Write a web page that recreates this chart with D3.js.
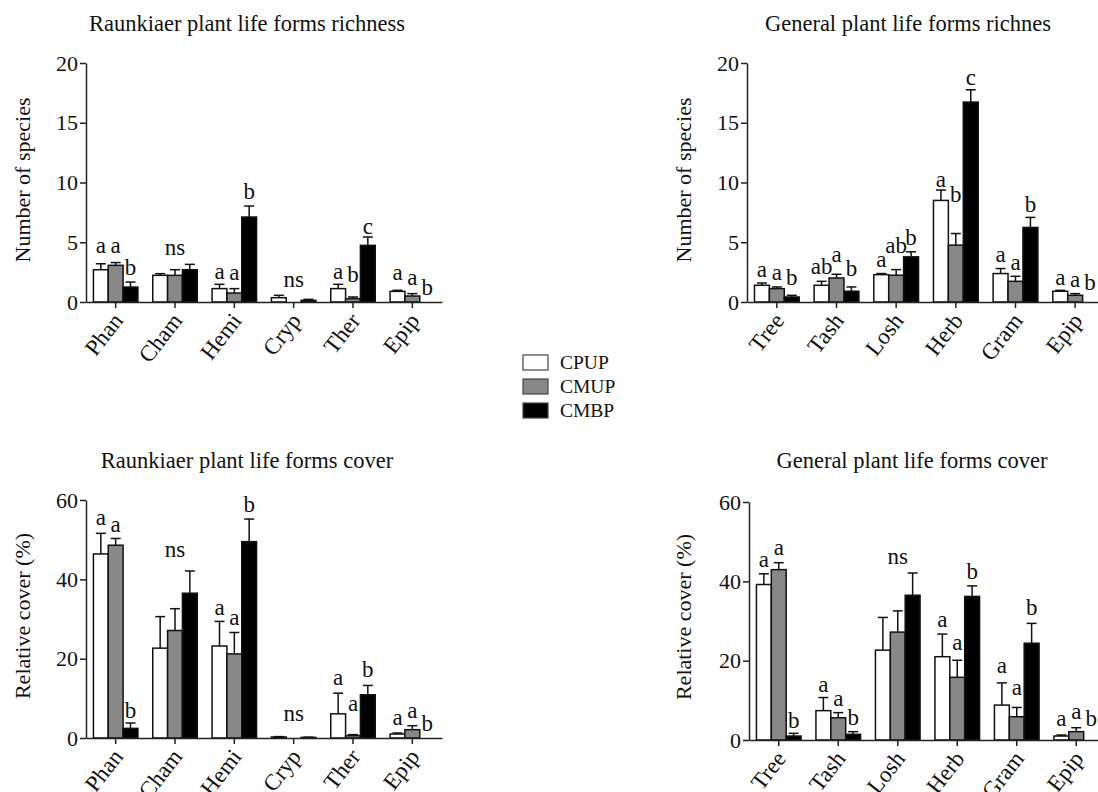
<!DOCTYPE html>
<html>
<head>
<meta charset="utf-8">
<script src="https://cdn.jsdelivr.net/npm/d3@7"></script>
<style>
  body { margin: 0; background: #fff; }
  text { font-family: "Liberation Serif", "Times New Roman", serif; fill: #111; }
</style>
</head>
<body>
<div id="chart"></div>
<script>
// categories and groups
var raunkCats = ["Phan", "Cham", "Hemi", "Cryp", "Ther", "Epip"];
var generalCats = ["Tree", "Tash", "Losh", "Herb", "Gram", "Epip"];
var groups = ["CPUP", "CMUP", "CMBP"];

// richness (number of species), mean and SEM per category [CPUP, CMUP, CMBP]
var raunkRichMean = [[2.7, 3.07, 1.25], [2.23, 2.23, 2.7], [1.12, 0.75, 7.11], [0.36, 0, 0.14], [1.12, 0.28, 4.74], [0.89, 0.5, 0]];
var raunkRichSem  = [[0.5, 0.23, 0.42], [0.14, 0.47, 0.45], [0.36, 0.37, 0.92], [0.2, 0, 0.08], [0.36, 0.14, 0.7], [0.09, 0.2, 0]];
var raunkRichLetters = [["a", "a", "b"], "ns", ["a", "a", "b"], "ns", ["a", "b", "c"], ["a", "a", "b"]];
var raunkRichLetterAt = [[4.13, 4.13, 2.23], 3.9, [1.95, 1.81, 8.65], 1.26, [1.95, 1.67, 5.72], [1.81, 1.4, 0.56]];

var generalRichMean = [[1.4, 1.12, 0.42], [1.4, 2.01, 0.9], [2.29, 2.24, 3.78], [8.5, 4.76, 16.73], [2.38, 1.73, 6.24], [0.9, 0.56, 0]];
var generalRichSem  = [[0.19, 0.14, 0.14], [0.33, 0.31, 0.36], [0.09, 0.47, 0.42], [0.87, 0.97, 1.03], [0.42, 0.42, 0.84], [0.08, 0.14, 0]];
var generalRichLetters = [["a", "a", "b"], ["ab", "a", "b"], ["a", "ab", "b"], ["a", "b", "c"], ["a", "a", "b"], ["a", "a", "b"]];
var generalRichLetterAt = [[2.1, 1.82, 1.4], [2.38, 3.36, 2.15], [2.94, 4.06, 4.76], [9.65, 8.39, 18.18], [3.36, 2.66, 7.55], [1.4, 1.26, 0.98]];

// relative cover (%)
var raunkCoverMean = [[46.4, 48.6, 2.43], [22.65, 27.1, 36.5], [23.2, 21.2, 49.5], [0.25, 0, 0.15], [6.1, 0.6, 10.9], [1.0, 2.1, 0]];
var raunkCoverSem  = [[5.2, 1.7, 1.35], [7.95, 5.5, 5.6], [6.2, 5.4, 5.7], [0.1, 0, 0.05], [5.2, 0.25, 2.35], [0.26, 1.0, 0]];
var raunkCoverLetters = [["a", "a", "b"], "ns", ["a", "a", "b"], "ns", ["a", "a", "b"], ["a", "a", "b"]];
var raunkCoverLetterAt = [[53.7, 52.0, 5.03], 45.7, [31.0, 28.4, 57.0], 4.2, [13.4, 6.7, 15.3], [3.36, 5.03, 1.85]];

var generalCoverMean = [[39.2, 42.95, 1.0], [7.4, 5.6, 1.43], [22.65, 27.2, 36.5], [21.0, 15.8, 36.2], [8.8, 5.87, 24.4], [1.0, 2.1, 0]];
var generalCoverSem  = [[2.7, 1.75, 0.68], [3.3, 1.3, 0.67], [8.25, 5.35, 5.6], [5.7, 4.3, 2.65], [5.6, 2.33, 5.0], [0.26, 1.0, 0]];
var generalCoverLetters = [["a", "a", "b"], ["a", "a", "b"], "ns", ["a", "a", "b"], ["a", "a", "b"], ["a", "a", "b"]];
var generalCoverLetterAt = [[43.6, 46.6, 3.1], [12.0, 8.56, 3.78], 44.3, [28.5, 22.8, 40.7], [16.8, 11.3, 31.5], [3.6, 5.3, 3.6]];

var richTicks = [0, 5, 10, 15, 20];
var coverTicks = [0, 20, 40, 60];

var fills = ["#ffffff", "#888888", "#000000"];

var svg = d3.select("#chart")
  .append("svg")
    .attr("width", 1098)
    .attr("height", 792);

var color = d3.scaleOrdinal().domain(groups).range(fills);

function drawPanel(p) {
    var g = svg.append("g");

    var x = d3.scaleBand()
        .domain(p.cats)
        .range([p.left, p.right])
        .paddingInner(0.25)
        .paddingOuter(0.125);

    var xSub = d3.scaleBand()
        .domain(groups)
        .range([0, x.bandwidth()]);

    var y = d3.scaleLinear()
        .domain([0, p.max])
        .range([p.bottom, p.top]);

    // title
    g.append("text")
        .attr("x", p.titleX)
        .attr("y", p.titleY)
        .attr("text-anchor", "middle")
        .attr("font-size", "22.5px")
        .text(p.title);

    // y label
    g.append("text")
        .attr("transform", "translate(" + p.labelX + "," + p.labelY + ")rotate(-90)")
        .attr("text-anchor", "middle")
        .attr("dy", "0.35em")
        .attr("font-size", "22px")
        .text(p.ylabel);

    // bars
    var rows = p.mean.map(function(m, i) {
        return groups.map(function(k, j) {
            return {cat: p.cats[i], key: k, value: m[j], sem: p.sem[i][j]};
        });
    });

    var cat = g.append("g")
      .selectAll("g")
      .data(rows)
      .enter()
      .append("g")
        .attr("transform", function(d) { return "translate(" + x(d[0].cat) + ",0)"; });

    var bar = cat.selectAll("g")
        .data(function(d) { return d.filter(function(e) { return e.value > 0; }); })
        .enter().append("g");

    // error bars (upper only)
    bar.append("line")
        .attr("x1", function(d) { return xSub(d.key) + xSub.bandwidth() / 2; })
        .attr("x2", function(d) { return xSub(d.key) + xSub.bandwidth() / 2; })
        .attr("y1", function(d) { return y(d.value); })
        .attr("y2", function(d) { return y(d.value + d.sem); })
        .attr("stroke", "#111")
        .attr("stroke-width", 1.5);
    bar.append("line")
        .attr("x1", function(d) { return xSub(d.key) + xSub.bandwidth() / 2 - 5; })
        .attr("x2", function(d) { return xSub(d.key) + xSub.bandwidth() / 2 + 5; })
        .attr("y1", function(d) { return y(d.value + d.sem); })
        .attr("y2", function(d) { return y(d.value + d.sem); })
        .attr("stroke", "#111")
        .attr("stroke-width", 1.5);

    bar.append("rect")
        .attr("x", function(d) { return xSub(d.key); })
        .attr("y", function(d) { return y(d.value); })
        .attr("width", xSub.bandwidth())
        .attr("height", function(d) { return y(0) - y(d.value); })
        .attr("fill", function(d) { return color(d.key); })
        .attr("stroke", "#111")
        .attr("stroke-width", 1.5);

    // significance letters
    p.letters.forEach(function(l, i) {
        if (typeof l === "string") {
            g.append("text")
                .attr("x", x(p.cats[i]) + x.bandwidth() / 2)
                .attr("y", y(p.letterAt[i]))
                .attr("text-anchor", "middle")
                .attr("font-size", "23px")
                .text(l);
        } else {
            l.forEach(function(s, j) {
                g.append("text")
                    .attr("x", x(p.cats[i]) + xSub(groups[j]) + xSub.bandwidth() / 2)
                    .attr("y", y(p.letterAt[i][j]))
                    .attr("text-anchor", "middle")
                    .attr("font-size", "23px")
                    .text(s);
            });
        }
    });

    // y axis
    var yAxis = g.append("g")
        .attr("transform", "translate(" + p.left + ",0)")
        .call(d3.axisLeft(y).tickValues(p.ticks).tickSize(6).tickPadding(2).tickSizeOuter(0));
    yAxis.selectAll("text").attr("font-size", "22px").style("font-family", "Liberation Serif").attr("fill", "#111");

    // x axis, slanted labels
    var xAxis = g.append("g")
        .attr("transform", "translate(0," + p.bottom + ")")
        .call(d3.axisBottom(x).tickSize(6).tickSizeOuter(0));
    xAxis.selectAll("text")
        .attr("font-size", "23px")
        .style("font-family", "Liberation Serif")
        .attr("fill", "#111")
        .attr("x", 0)
        .attr("y", 0)
        .attr("dy", "0.35em")
        .style("text-anchor", "end")
        .attr("transform", "translate(2,14)rotate(-52)");

    g.selectAll(".domain, .tick line")
        .attr("stroke", "#222")
        .attr("stroke-width", 1.5);
}

drawPanel({title: "Raunkiaer plant life forms richness", titleX: 247, titleY: 31,
    ylabel: "Number of species", labelX: 22, labelY: 180,
    cats: raunkCats, mean: raunkRichMean, sem: raunkRichSem, letters: raunkRichLetters, letterAt: raunkRichLetterAt,
    left: 86, right: 442, top: 63, bottom: 302, max: 20, ticks: richTicks});

drawPanel({title: "General plant life forms richnes", titleX: 908, titleY: 31,
    ylabel: "Number of species", labelX: 683, labelY: 180,
    cats: generalCats, mean: generalRichMean, sem: generalRichSem, letters: generalRichLetters, letterAt: generalRichLetterAt,
    left: 747, right: 1105, top: 63, bottom: 302, max: 20, ticks: richTicks});

drawPanel({title: "Raunkiaer plant life forms cover", titleX: 247, titleY: 468,
    ylabel: "Relative cover (%)", labelX: 22, labelY: 616,
    cats: raunkCats, mean: raunkCoverMean, sem: raunkCoverSem, letters: raunkCoverLetters, letterAt: raunkCoverLetterAt,
    left: 86, right: 442, top: 500, bottom: 738, max: 60, ticks: coverTicks});

drawPanel({title: "General plant life forms cover", titleX: 912, titleY: 468,
    ylabel: "Relative cover (%)", labelX: 683, labelY: 617,
    cats: generalCats, mean: generalCoverMean, sem: generalCoverSem, letters: generalCoverLetters, letterAt: generalCoverLetterAt,
    left: 749, right: 1106, top: 502, bottom: 740, max: 60, ticks: coverTicks});

// legend
var legend = svg.append("g")
  .selectAll("g")
  .data(groups)
  .enter()
  .append("g")
    .attr("transform", function(d, i) { return "translate(523," + (355 + i * 24) + ")"; });

legend.append("rect")
    .attr("width", 25)
    .attr("height", 15)
    .attr("fill", function(d) { return color(d); })
    .attr("stroke", "#444")
    .attr("stroke-width", 1.2);

legend.append("text")
    .attr("x", 37)
    .attr("y", 14)
    .attr("font-size", "19.5px")
    .text(function(d) { return d; });
</script>
</body>
</html>
